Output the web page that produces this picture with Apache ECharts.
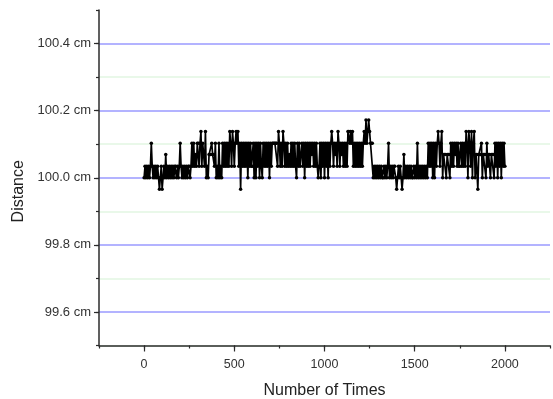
<!DOCTYPE html>
<html>
<head>
<meta charset="utf-8">
<title>Distance</title>
<script src="https://cdn.jsdelivr.net/npm/echarts@6/dist/echarts.min.js"></script>
<style>
  html, body { margin: 0; padding: 0; background: #fff; }
  #chart { width: 553px; height: 399px; }
</style>
</head>
<body>
<div id="chart"></div>
<script>
// reading levels (cm), the sensor steps about 0.0345 cm
var levels = [99.966, 100.000, 100.034, 100.069, 100.103, 100.138, 100.172]
// one reading is kept every 5 times
var stepTimes = 5

var blockA =
  '1212121242' + '1212121012' + '0121312121' + '2121221212' + '4212121212'
var blockB =
  '2124242324' + '4245243251' + '2133343324' + '1214121424' + '2424254254' +
  '2454524042' + '4242414242' + '2414142414' + '2142424241' + '4244444425' +
  '4242542424' + '2324242421' + '4242342414' + '2424243424' + '2421241424' +
  '1424142454' + '2434254243' + '4242425545' + '4524242424' + '2424546456' +
  '5444121212'
var blockC =
  '1212112121' + '2412121221' + '0121210131' + '2121212112' + '1214121212' +
  '1212142424'
var blockD =
  '1414245424' + '5133313331' + '4242434242' + '2424242541' + '5425145133' +
  '0333413331' + '4233133314' + '24142414242'

var xTicks = [0, 500, 1000, 1500, 2000]
var yTicks = [99.6, 99.8, 100.0, 100.2, 100.4]

var readings = blockA + blockB + blockC + blockD
var seriesData = readings.split('').map(function (c, i) {
  return [i * stepTimes, levels[+c]]
})

// colours
var axisColor = '#2b2b2b'
var textColor = '#333'
var majorLine = '#9a9aff'
var minorLine = '#e2f6e2'
var font = 'Liberation Sans, Arial, sans-serif'

// 1. init
var myChart = echarts.init(document.getElementById('chart'))

// 2. option
var option = {
  animation: false,
  grid: { left: 99, right: 3, top: 10, bottom: 53.5, outerBoundsMode: 'none', containLabel: false },
  xAxis: [{
    type: 'value',
    min: -250,
    max: 2250,
    interval: 250,
    axisLine: { onZero: false, lineStyle: { color: axisColor, width: 1.5 } },
    axisTick: { length: 3, lineStyle: { color: axisColor, width: 1.2 } },
    axisLabel: { show: false },
    splitLine: { show: false }
  }, {
    // major ticks + labels
    type: 'value',
    position: 'bottom',
    min: -250,
    max: 2250,
    axisLine: { show: false, onZero: false },
    axisTick: { length: 6, customValues: xTicks, lineStyle: { color: axisColor, width: 1.2 } },
    axisLabel: {
      customValues: xTicks,
      margin: 13,
      color: textColor,
      fontSize: 12.5,
      fontFamily: font,
      formatter: function (v) { return String(v) }
    },
    splitLine: { show: false },
    name: 'Number of Times',
    nameLocation: 'middle',
    nameGap: 37,
    nameTextStyle: { color: '#222', fontSize: 16, fontFamily: font }
  }],
  yAxis: [{
    // grid lines every 0.1, minor / major alternating (first one at 99.5)
    type: 'value',
    min: 99.5,
    max: 100.5,
    interval: 0.1,
    axisLine: { show: true, onZero: false, lineStyle: { color: axisColor, width: 1.5 } },
    axisTick: { length: 3, lineStyle: { color: axisColor, width: 1.2 } },
    axisLabel: { show: false },
    splitLine: {
      show: true,
      showMinLine: true,
      showMaxLine: false,
      lineStyle: { color: [minorLine, majorLine], width: 1.6 }
    }
  }, {
    // major ticks + labels
    type: 'value',
    position: 'left',
    min: 99.5,
    max: 100.5,
    axisLine: { show: false, onZero: false },
    axisTick: { show: true, length: 5, customValues: yTicks, lineStyle: { color: axisColor, width: 1.2 } },
    axisLabel: {
      customValues: yTicks,
      margin: 8,
      color: textColor,
      fontSize: 13,
      fontFamily: font,
      formatter: function (v) { return v.toFixed(1) + ' cm' }
    },
    splitLine: { show: false },
    name: 'Distance',
    nameLocation: 'middle',
    nameGap: 60,
    nameTextStyle: { color: '#222', fontSize: 16, fontFamily: font, padding: [0, 27, 0, 0] }
  }],
  series: [{
    name: 'distance',
    type: 'line',
    xAxisIndex: 0,
    yAxisIndex: 0,
    data: seriesData,
    symbol: 'circle',
    symbolSize: 3.5,
    showSymbol: true,
    itemStyle: { color: '#000' },
    lineStyle: { color: '#000', width: 1.7 }
  }]
}

// 3. set
myChart.setOption(option, true)
</script>
</body>
</html>
